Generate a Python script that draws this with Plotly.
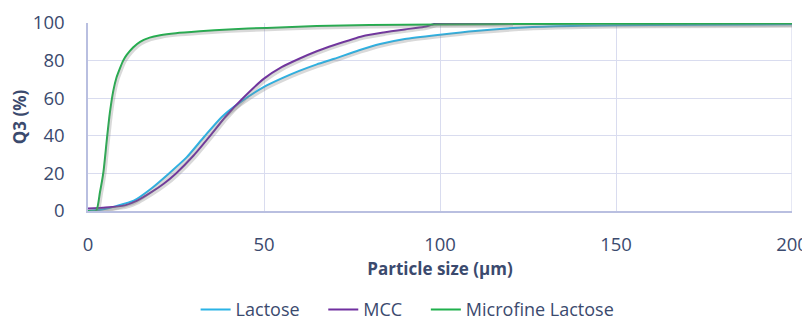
import plotly.graph_objects as go

# Particle size (µm) and cumulative Q3 (%)
lactose_x = [0, 4, 8, 13, 18, 23, 28, 33, 38, 43, 50, 55, 60, 65, 70, 77, 83, 90, 100, 110, 125, 140, 160, 200]
lactose_y = [0, 0.8, 2.6, 5.5, 12, 20, 28.5, 39.5, 50, 57.5, 66, 70.5, 74.5, 78, 81, 85.5, 88.8, 91.5, 93.8, 95.8, 97.8, 98.6, 99, 99.3]

mcc_x = [0, 5, 10.5, 14, 18, 21.5, 25, 30, 34.7, 39, 44, 50, 55, 60, 65, 70, 78, 84, 90, 95.3, 97.5, 99, 110, 120.4]
mcc_y = [1.3, 1.8, 3, 5.5, 10, 14.5, 20, 29.5, 40, 50, 60, 70.4, 76.5, 81, 85, 88.3, 93, 95, 96.6, 97.9, 99, 99.8, 100, 100]

micro_x = [0, 2.3, 3.4, 4.4, 5.3, 6.2, 7.2, 8.1, 9.1, 10, 11, 12.8, 14.8, 17.5, 20.5, 25, 31.8, 40, 50.8, 65, 80, 100, 130, 160, 200]
micro_y = [0, 0, 10, 21, 37, 52, 64, 71, 76, 80, 83, 87, 90, 92.2, 93.5, 94.6, 95.6, 96.6, 97.4, 98.4, 98.9, 99.2, 99.5, 99.6, 99.7]

series = [
    ("Lactose", lactose_x, lactose_y, "#2bb3e6"),
    ("MCC", mcc_x, mcc_y, "#7030a0"),
    ("Microfine Lactose", micro_x, micro_y, "#1fb04c"),
]

x_ticks = [0, 50, 100, 150, 200]
y_ticks = [0, 20, 40, 60, 80, 100]

TEXT = "#3b4a6e"
GRID = "#d9dcef"
AXIS = "#b9bfe0"
FONT = "Open Sans"
PAD = "\u00a0\u00a0\u00a0\u00a0"

fig = go.Figure()

# soft drop shadows (same data on a slightly shifted overlay axis)
for name, xs, ys, col in series:
    fig.add_trace(go.Scatter(
        x=xs, y=ys, mode="lines",
        line=dict(color="rgba(130,130,130,0.3)", width=3.5, shape="spline", smoothing=0.6),
        xaxis="x2", yaxis="y2", showlegend=False, hoverinfo="skip"))

for i, (name, xs, ys, col) in enumerate(series):
    fig.add_trace(go.Scatter(
        x=xs, y=ys, mode="lines", name=name + (PAD if i < 2 else ""),
        line=dict(color=col, width=2, shape="spline", smoothing=0.6)))

# the page body adds an 8px margin, so the figure is sized to avoid scrollbars
fig.update_layout(
    width=802, height=313,
    margin=dict(l=80, r=18, t=15, b=110, autoexpand=False),
    paper_bgcolor="white", plot_bgcolor="white",
    font=dict(family=FONT, color=TEXT, size=18),
    showlegend=True,
    legend=dict(orientation="h", x=0.454, xanchor="center", y=-0.525, yanchor="middle",
                font=dict(size=18, color=TEXT, family=FONT), itemwidth=30,
                tracegroupgap=0, bgcolor="rgba(0,0,0,0)"),
    xaxis=dict(range=[0, 200], tickvals=x_ticks, ticktext=[str(v) for v in x_ticks],
               showgrid=True, gridcolor=GRID, gridwidth=1.3,
               showline=True, linecolor=AXIS, linewidth=1.5, mirror=False,
               zeroline=False, ticks="outside", ticklen=16, tickcolor="rgba(0,0,0,0)",
               tickfont=dict(size=18.5, color=TEXT), automargin=False, ticklabeloverflow="allow",
               title=dict(text="<b>Particle size (µm)</b>", font=dict(size=17, color=TEXT), standoff=8)),
    yaxis=dict(range=[0, 100], tickvals=y_ticks, ticktext=[str(v) for v in y_ticks],
               showgrid=True, gridcolor=GRID, gridwidth=1.3,
               showline=True, linecolor=AXIS, linewidth=1.5,
               zeroline=False, ticks="outside", ticklen=18, tickcolor="rgba(0,0,0,0)",
               tickfont=dict(size=18.5, color=TEXT), automargin=False, ticklabeloverflow="allow",
               title=dict(text="<b>Q3 (%)</b>", font=dict(size=17, color=TEXT), standoff=12)),
    xaxis2=dict(range=[-0.35, 199.65], overlaying="x", visible=False),
    yaxis2=dict(range=[0.9, 100.9], overlaying="y", visible=False),
)

# right frame line at x=200
fig.add_shape(type="line", xref="x", yref="y", x0=200, x1=200, y0=0, y1=100,
              line=dict(color=GRID, width=1.3), layer="below")

fig.write_html("out.html")
